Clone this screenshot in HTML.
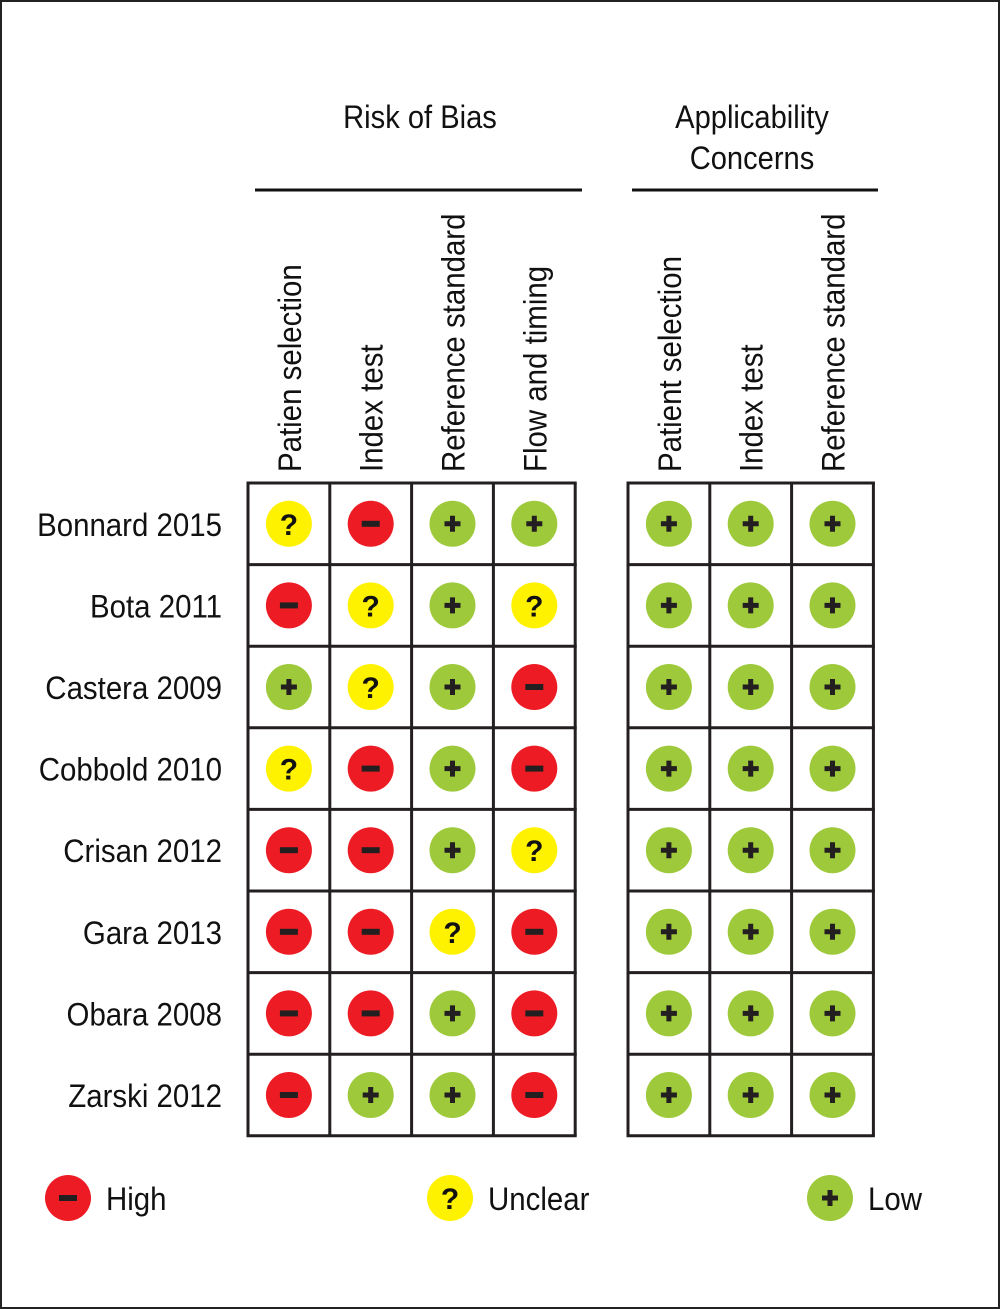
<!DOCTYPE html>
<html><head><meta charset="utf-8"><style>
html,body{margin:0;padding:0;background:#fff}
svg{display:block}
text{font-family:"Liberation Sans",sans-serif;fill:#111}
</style></head><body>
<svg id="chart" width="1000" height="1309" viewBox="0 0 1000 1309">
<rect x="1" y="1" width="998" height="1307" fill="#fff" stroke="#222" stroke-width="2"/>
<text x="420" y="128" font-size="32" text-anchor="middle" transform="translate(420 0) scale(0.91 1) translate(-420 0)">Risk of Bias</text>
<line x1="255" y1="190" x2="582" y2="190" stroke="#111" stroke-width="3"/>
<text x="752" y="128" font-size="32" text-anchor="middle" transform="translate(752 0) scale(0.91 1) translate(-752 0)">Applicability</text>
<text x="752" y="169" font-size="32" text-anchor="middle" transform="translate(752 0) scale(0.91 1) translate(-752 0)">Concerns</text>
<line x1="632" y1="190" x2="878" y2="190" stroke="#111" stroke-width="3"/>
<g id="g"></g>
</svg>
<script>
const studies=["Bonnard 2015","Bota 2011","Castera 2009","Cobbold 2010","Crisan 2012","Gara 2013","Obara 2008","Zarski 2012"];
const columns=["Patien selection","Index test","Reference standard","Flow and timing","Patient selection","Index test","Reference standard"];
const rob1=["U","H","L","U","H","H","H","H"];
const rob2=["H","U","U","H","H","H","H","L"];
const rob3=["L","L","L","L","L","U","L","L"];
const rob4=["L","U","H","H","U","H","H","H"];
const app1=["L","L","L","L","L","L","L","L"];
const app2=["L","L","L","L","L","L","L","L"];
const app3=["L","L","L","L","L","L","L","L"];
const ratings=[rob1,rob2,rob3,rob4,app1,app2,app3];
const legendLabels=["High","Unclear","Low"];
const legendKeys=["H","U","L"];

const NS="http://www.w3.org/2000/svg";
const g=document.getElementById('g');
const cw=81.8, rh=81.6, gridTop=483;
const groupX=[248,628];
function colX(c){return c<4?groupX[0]+c*cw:groupX[1]+(c-4)*cw;}
function rowY(r){return gridTop+r*rh;}
function mk(t,a){const e=document.createElementNS(NS,t);for(const k in a)e.setAttribute(k,a[k]);g.appendChild(e);return e;}
const colors={H:"#ed1c24",U:"#fff200",L:"#9dc93b"};
function symbol(k,cx,cy,name){
  const c=mk('circle',{cx:cx,cy:cy,r:23,fill:colors[k]});
  
  
  if(k==="H"){const s=mk('rect',{x:cx-9,y:cy-3,width:18,height:6,fill:"#231f20"});
    }
  else if(k==="L"){const s=mk('path',{d:`M${cx-8} ${cy}H${cx+8}M${cx} ${cy-8}V${cy+8}`,stroke:"#231f20","stroke-width":5});
    }
  else{const t=mk('text',{x:cx,y:cy+11,"font-size":30,"font-weight":"bold","text-anchor":"middle"});t.textContent="?";
    }
}
[[0,4],[4,3]].forEach(([s,n])=>{
  const x0=colX(s);
  for(let i=0;i<=n;i++){const l=mk('line',{x1:x0+i*cw,y1:gridTop,x2:x0+i*cw,y2:rowY(studies.length),stroke:"#231f20","stroke-width":3});
    }
  for(let r=0;r<=studies.length;r++){const l=mk('line',{x1:x0-1.5,y1:rowY(r),x2:x0+n*cw+1.5,y2:rowY(r),stroke:"#231f20","stroke-width":3});
    }
});
columns.forEach((c,i)=>{
  const x=colX(i)+cw/2+12, y=472;
  const t=mk('text',{x:0,y:0,"font-size":32,transform:`translate(${x} ${y}) rotate(-90) scale(0.92 1)`});
  t.textContent=c;
  
  
});
studies.forEach((s,r)=>{
  const t=mk('text',{x:0,y:0,"font-size":32,"text-anchor":"end",transform:`translate(222 ${rowY(r)+rh/2+12}) scale(0.92 1)`});
  t.textContent=s;
  
  
  ratings.forEach((col,c)=>symbol(col[r],colX(c)+cw/2,rowY(r)+rh/2,'rating-cell'));
});
const legX=[68,450,830];
legendLabels.forEach((l,i)=>{
  symbol(legendKeys[i],legX[i],1198,'legend-icon');
  const t=mk('text',{x:0,y:0,"font-size":32,transform:`translate(${legX[i]+38} 1210) scale(0.92 1)`});
  t.textContent=l;
  
  
});
</script>
</body></html>
